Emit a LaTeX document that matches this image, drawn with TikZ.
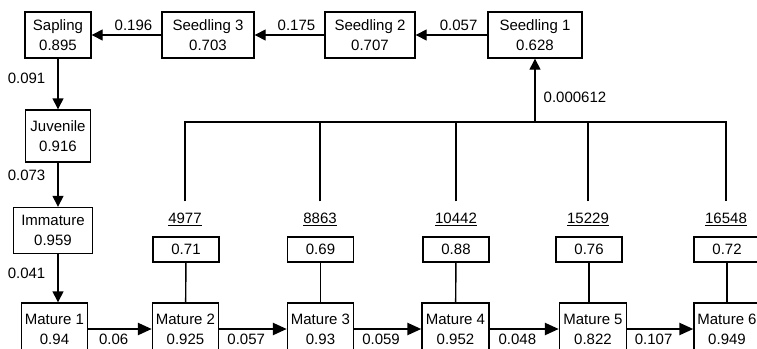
\documentclass[tikz,border=0pt]{standalone}
\usepackage{fontspec}
\setmainfont{Liberation Sans}
\usetikzlibrary{arrows.meta, positioning}

\begin{document}
\begin{tikzpicture}[
        x=1pt, y=-1pt,
        font=\fontsize{15}{20}\selectfont,
        stage/.style={rectangle, draw=black, line width=1.4pt, align=center, inner sep=2pt, minimum height=46pt},
        mature/.style={rectangle, draw=black, line width=1.4pt, align=center, inner sep=2pt, minimum width=66pt, minimum height=52pt},
        surv/.style={rectangle, draw=black, line width=1.4pt, inner sep=1pt, minimum width=66pt, minimum height=25pt},
        popsize/.style={inner sep=2pt},
        move/.style={-{Triangle[length=11pt, width=11pt]}, line width=1.4pt},
        ageup/.style={-{Triangle[length=14pt, width=12pt]}, line width=2.4pt},
        link/.style={line width=1.4pt},
        rate/.style={inner sep=2pt}
    ]
        \useasboundingbox (0,0) rectangle (757,348);
        \clip (0,0) rectangle (757,348);
        % seedlings and young stages
        \node[stage, minimum width=66pt] (sap) at (58, 35) {Sapling\\0.895};
        \node[stage, minimum width=92pt] (s3) at (208, 35) {Seedling 3\\0.703};
        \node[stage, minimum width=90pt] (s2) at (370, 35) {Seedling 2\\0.707};
        \node[stage, minimum width=94pt] (s1) at (535, 35) {Seedling 1\\0.628};
        \node[stage, minimum width=65pt, minimum height=52pt] (juv) at (58, 136) {Juvenile\\0.916};
        \node[stage, minimum width=79pt] (imm) at (53, 230.5) {Immature\\0.959};
        % mature stages
        \node[mature] (m1) at (54.5, 329) {Mature 1\\0.94};
        \node[mature] (m2) at (185.5, 329) {Mature 2\\0.925};
        \node[mature] (m3) at (320.5, 329) {Mature 3\\0.93};
        \node[mature, minimum width=67pt] (m4) at (455.5, 329) {Mature 4\\0.952};
        \node[mature, minimum width=67pt] (m5) at (593, 329) {Mature 5\\0.822};
        \node[mature] (m6) at (727, 329) {Mature 6\\0.949};
        % survival of reproductive classes
        \node[surv] (v2) at (186, 249.5) {0.71};
        \node[surv] (v3) at (320.5, 249.5) {0.69};
        \node[surv] (v4) at (456, 249.5) {0.88};
        \node[surv] (v5) at (589, 249.5) {0.76};
        \node[surv] (v6) at (727, 249.5) {0.72};
        \node[popsize] (n2) at (185, 219) {\underline{4977}};
        \node[popsize] (n3) at (320, 219) {\underline{8863}};
        \node[popsize] (n4) at (456, 219) {\underline{10442}};
        \node[popsize] (n5) at (588, 219) {\underline{15229}};
        \node[popsize] (n6) at (726, 219) {\underline{16548}};
        \coordinate (join) at (535, 122);
        % transitions
        \draw[move] (s1) -- (s2) node[pos=0.4, above=2pt, rate] {0.057};
        \draw[move] (s2) -- (s3) node[pos=0.4, above=2pt, rate] {0.175};
        \draw[move] (s3) -- (sap) node[pos=0.4, above=2pt, rate] {0.196};
        \draw[move] (sap.south) -- (sap.south |- juv.north) node[pos=0.38, left=10pt, rate] {0.091};
        \draw[move] (juv.south) -- (juv.south |- imm.north) node[pos=0.28, left=10pt, rate] {0.073};
        \draw[move] (juv.south |- imm.south) -- (juv.south |- m1.north) node[pos=0.4, left=10pt, rate] {0.041};
        \draw[ageup] (m1) -- (m2) node[pos=0.4, below=2pt, rate] {0.06};
        \draw[ageup] (m2) -- (m3) node[pos=0.4, below=2pt, rate] {0.057};
        \draw[ageup] (m3) -- (m4) node[pos=0.4, below=2pt, rate] {0.059};
        \draw[ageup] (m4) -- (m5) node[pos=0.4, below=2pt, rate] {0.048};
        \draw[ageup] (m5) -- (m6) node[pos=0.4, below=2pt, rate] {0.107};
        % fecundity
        \draw[link, shorten <=9pt, shorten >=9pt] (n2.north) |- (join) -| (n6.north);
        \draw[link, shorten <=9pt] (n3.north) -- (n3.north |- join);
        \draw[link, shorten <=9pt] (n4.north) -- (n4.north |- join);
        \draw[link, shorten <=9pt] (n5.north) -- (n5.north |- join);
        \draw[move] (join) -- (s1) node[pos=0.39, right=6pt, rate] {0.000612};
        \draw[link] (v2) -- (m2);
        \draw[link] (v3) -- (m3);
        \draw[link] (v4) -- (m4);
        \draw[link] (v5.south) -- (v5.south |- m5.north);
        \draw[link] (v6) -- (m6);
    \end{tikzpicture}
\end{document}
